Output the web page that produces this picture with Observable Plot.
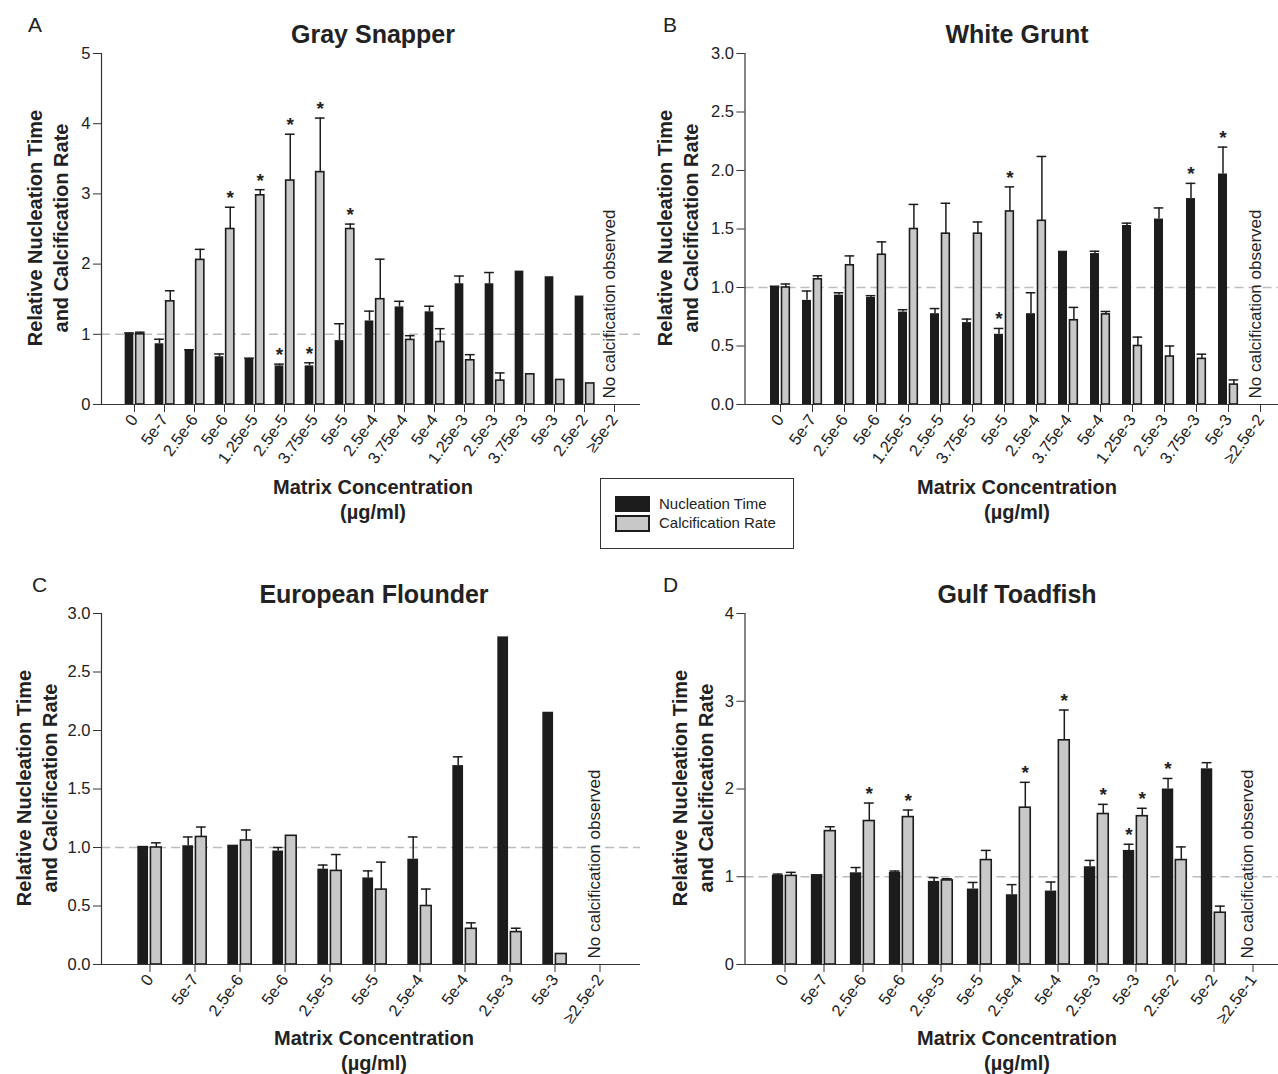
<!DOCTYPE html>
<html><head><meta charset="utf-8">
<script src="https://cdn.jsdelivr.net/npm/d3@7"></script>
<script src="https://cdn.jsdelivr.net/npm/@observablehq/plot@0.6"></script>
<style>
body{margin:0;background:#fff;}
#fig{position:relative;width:1278px;height:1074px;font-family:"Liberation Sans",Arial,sans-serif;color:#222;overflow:hidden;background:#fff}
.abs{position:absolute;white-space:nowrap}
.letter{font-size:21px;line-height:21px}
.title{font-size:25px;line-height:25px;font-weight:bold;transform:translateX(-50%)}
.xt{font-size:20px;line-height:20px;font-weight:bold;transform:translateX(-50%)}
.yt{font-size:20px;line-height:26px;font-weight:bold;text-align:center;transform:translate(-50%,-50%) rotate(-90deg)}
.panel{position:absolute}
.legend{position:absolute;left:600px;top:478px;width:194px;height:71px;border:1px solid #333;box-sizing:border-box;font-size:15px}
</style></head><body><div id="fig"></div>
<script>
// ---------- DATA ----------
// A: Gray Snapper
const snapperConc = ["0","5e-7","2.5e-6","5e-6","1.25e-5","2.5e-5","3.75e-5","5e-5","2.5e-4","3.75e-4","5e-4","1.25e-3","2.5e-3","3.75e-3","5e-3","2.5e-2","≥5e-2"];
const snapperNuc     = [1.01,0.865,0.775,0.68,0.65,0.55,0.55,0.91,1.19,1.39,1.32,1.72,1.72,1.90,1.82,1.545,null];
const snapperNucErr  = [1.02,0.93,0.78,0.72,0.66,0.575,0.594,1.15,1.33,1.47,1.40,1.83,1.88,null,null,null,null];
const snapperCalc    = [1.0,1.47,2.06,2.50,2.98,3.19,3.31,2.50,1.50,0.92,0.89,0.63,0.34,0.43,0.35,0.30,null];
const snapperCalcErr = [1.03,1.62,2.21,2.81,3.06,3.85,4.08,2.57,2.07,0.98,1.08,0.71,0.45,null,null,null,null];
const snapperNucStars  = ["2.5e-5","3.75e-5"];
const snapperCalcStars = ["5e-6","1.25e-5","2.5e-5","3.75e-5","5e-5"];

// B: White Grunt
const gruntConc = ["0","5e-7","2.5e-6","5e-6","1.25e-5","2.5e-5","3.75e-5","5e-5","2.5e-4","3.75e-4","5e-4","1.25e-3","2.5e-3","3.75e-3","5e-3","≥2.5e-2"];
const gruntNuc     = [1.01,0.89,0.935,0.915,0.79,0.776,0.70,0.60,0.776,1.31,1.29,1.53,1.585,1.76,1.97,null];
const gruntNucErr  = [1.01,0.97,0.955,0.93,0.81,0.82,0.73,0.65,0.955,null,1.31,1.55,1.68,1.89,2.20,null];
const gruntCalc    = [1.0,1.07,1.19,1.28,1.50,1.46,1.46,1.65,1.57,0.72,0.77,0.50,0.41,0.39,0.17,null];
const gruntCalcErr = [1.03,1.10,1.27,1.39,1.71,1.72,1.56,1.86,2.12,0.83,0.795,0.576,0.50,0.43,0.21,null];
const gruntNucStars  = ["5e-5","3.75e-3","5e-3"];
const gruntCalcStars = ["5e-5"];

// C: European Flounder
const flounderConc = ["0","5e-7","2.5e-6","5e-6","2.5e-5","5e-5","2.5e-4","5e-4","2.5e-3","5e-3","≥2.5e-2"];
const flounderNuc     = [1.01,1.015,1.02,0.97,0.815,0.74,0.90,1.70,2.80,2.156,null];
const flounderNucErr  = [null,1.09,null,1.0,0.85,0.80,1.09,1.775,null,null,null];
const flounderCalc    = [1.0,1.09,1.06,1.10,0.80,0.64,0.50,0.305,0.277,0.09,null];
const flounderCalcErr = [1.04,1.175,1.15,null,0.94,0.875,0.645,0.356,0.31,null,null];
const flounderNucStars  = [];
const flounderCalcStars = [];

// D: Gulf Toadfish
const toadfishConc = ["0","5e-7","2.5e-6","5e-6","2.5e-5","5e-5","2.5e-4","5e-4","2.5e-3","5e-3","2.5e-2","5e-2","≥2.5e-1"];
const toadfishNuc     = [1.015,1.025,1.045,1.05,0.947,0.86,0.795,0.837,1.114,1.30,2.0,2.23,null];
const toadfishNucErr  = [1.03,null,1.105,1.065,0.99,0.935,0.91,0.94,1.186,1.37,2.12,2.30,null];
const toadfishCalc    = [1.01,1.52,1.635,1.68,0.958,1.19,1.787,2.555,1.715,1.69,1.19,0.59,null];
const toadfishCalcErr = [1.05,1.57,1.84,1.76,0.977,1.30,2.076,2.90,1.825,1.78,1.34,0.665,null];
const toadfishNucStars  = ["5e-3","2.5e-2"];
const toadfishCalcStars = ["2.5e-6","5e-6","2.5e-4","5e-4","2.5e-3","5e-3"];

const yTicksA = [0,1,2,3,4,5];
const yTicksB = [0,0.5,1,1.5,2,2.5,3];
const yTicksD = [0,1,2,3,4];
const noCalcText = "No calcification observed";
const yTitle = ["Relative Nucleation Time","and Calcification Rate"];
const xTitle = ["Matrix Concentration","(µg/ml)"];
const legendLabels = ["Nucleation Time","Calcification Rate"];

// ---------- DRAW ----------
const fig = document.getElementById("fig");
const BLACK = "#1c1c1c", GRAY = "#c8c8c8";

function panel(o) {
  const rows = o.conc.map((c, i) => ({
    c, nuc: o.nuc[i], nucErr: o.nucErr[i], calc: o.calc[i], calcErr: o.calcErr[i],
    nucStar: o.nucStars.includes(c), calcStar: o.calcStars.includes(c)
  }));
  const bw = (o.xRange[1] - o.xRange[0]) / o.conc.length;
  const ins = ([a, b]) => ({insetLeft: bw / 2 + a, insetRight: bw / 2 - b});
  const bc = (o.black[0] + o.black[1]) / 2, gc = (o.gray[0] + o.gray[1]) / 2;
  const cap = (c) => ({insetLeft: bw / 2 + c - 5, insetRight: bw / 2 - c - 5});
  const last = o.conc[o.conc.length - 1];
  const svg = Plot.plot({
    width: o.width, height: 540,
    marginLeft: o.marginLeft, marginRight: 0, marginTop: 53, marginBottom: 136,
    style: {fontFamily: "Liberation Sans, Arial, sans-serif", color: "#222", background: "transparent", overflow: "visible"},
    x: {type: "band", domain: o.conc, range: o.xRange, padding: 0},
    y: {domain: [0, o.yMax]},
    marks: [
      Plot.ruleY([1], {stroke: "#bcbcbc", strokeDasharray: "9,5", strokeWidth: 1.4}),
      Plot.barY(rows.filter(d => d.nuc != null), {x: "c", y: "nuc", fill: BLACK, ...ins(o.black)}),
      Plot.barY(rows.filter(d => d.calc != null), {x: "c", y: "calc", fill: GRAY, stroke: BLACK, strokeWidth: 1.6, ...ins(o.gray)}),
      Plot.ruleX(rows.filter(d => d.nucErr != null), {x: "c", y1: "nuc", y2: "nucErr", dx: bc, stroke: BLACK, strokeWidth: 1.5}),
      Plot.tickY(rows.filter(d => d.nucErr != null), {x: "c", y: "nucErr", stroke: BLACK, strokeWidth: 1.5, ...cap(bc)}),
      Plot.ruleX(rows.filter(d => d.calcErr != null), {x: "c", y1: "calc", y2: "calcErr", dx: gc, stroke: BLACK, strokeWidth: 1.5}),
      Plot.tickY(rows.filter(d => d.calcErr != null), {x: "c", y: "calcErr", stroke: BLACK, strokeWidth: 1.5, ...cap(gc)}),
      Plot.text(rows.filter(d => d.nucStar), {x: "c", y: d => d.nucErr ?? d.nuc, dx: bc, dy: -3, text: () => "*", lineAnchor: "bottom", fontSize: 19, fontWeight: "bold", fill: "#222"}),
      Plot.text(rows.filter(d => d.calcStar), {x: "c", y: d => d.calcErr ?? d.calc, dx: gc, dy: -3, text: () => "*", lineAnchor: "bottom", fontSize: 19, fontWeight: "bold", fill: "#222"}),
      Plot.text([noCalcText], {x: () => last, frameAnchor: "bottom", rotate: -90, textAnchor: "start", dy: -6, text: d => d, fontSize: 17, fill: "#222"}),
      Plot.ruleY([0], {stroke: "#333", strokeWidth: 1.2}),
      Plot.frame({anchor: "left", stroke: "#333", strokeWidth: 1.2}),
      Plot.axisX({tickRotate: -54, tickSize: 8, tickPadding: 4, fontSize: 16.5, label: null, stroke: "#333"}),
      Plot.axisY({ticks: o.yTicks, tickFormat: o.yFmt, tickSize: 8, tickPadding: 3, fontSize: 16.5, label: null, stroke: "#333"})
    ]
  });
  svg.classList.add("panel");
  svg.style.left = o.left + "px";
  svg.style.top = o.top + "px";
  fig.appendChild(svg);

  const add = (cls, text, left, top) => {
    const d = document.createElement("div");
    d.className = "abs " + cls;
    d.innerHTML = text;
    d.style.left = (o.left + left) + "px"; d.style.top = top + "px";
    fig.appendChild(d);
  };
  add("letter", o.letter, o.letterX, o.top + 14);
  add("title", o.title, o.titleX, o.top + 22);
  add("xt", xTitle[0], o.titleX, o.top + o.xtTop);
  add("xt", xTitle[1], o.titleX, o.top + o.xtTop + 25);
  add("yt", yTitle[0] + "<br>" + yTitle[1], o.ytX, o.top + 228);
}

panel({letter: "A", title: "Gray Snapper", conc: snapperConc, nuc: snapperNuc, nucErr: snapperNucErr, calc: snapperCalc, calcErr: snapperCalcErr,
  nucStars: snapperNucStars, calcStars: snapperCalcStars, yMax: 5, yTicks: yTicksA, yFmt: d3.format("d"),
  left: 0, top: 0, width: 640, marginLeft: 101, xRange: [116.25, 631.35], black: [-9.5, -0.5], gray: [1.5, 10],
  letterX: 28, titleX: 373, xtTop: 477, ytX: 48});
panel({letter: "B", title: "White Grunt", conc: gruntConc, nuc: gruntNuc, nucErr: gruntNucErr, calc: gruntCalc, calcErr: gruntCalcErr,
  nucStars: gruntNucStars, calcStars: gruntCalcStars, yMax: 3, yTicks: yTicksB, yFmt: d3.format(".1f"),
  left: 640, top: 0, width: 638, marginLeft: 104.5, xRange: [120.5, 638.9], black: [-10.2, -0.8], gray: [1.3, 9.5],
  letterX: 23, titleX: 377, xtTop: 477, ytX: 38});
panel({letter: "C", title: "European Flounder", conc: flounderConc, nuc: flounderNuc, nucErr: flounderNucErr, calc: flounderCalc, calcErr: flounderCalcErr,
  nucStars: flounderNucStars, calcStars: flounderCalcStars, yMax: 3, yTicks: yTicksB, yFmt: d3.format(".1f"),
  left: 0, top: 560, width: 640, marginLeft: 101, xRange: [125.57, 623.4], black: [-12.3, -1.3], gray: [0.8, 11.8],
  letterX: 32, titleX: 374, xtTop: 468, ytX: 37});
panel({letter: "D", title: "Gulf Toadfish", conc: toadfishConc, nuc: toadfishNuc, nucErr: toadfishNucErr, calc: toadfishCalc, calcErr: toadfishCalcErr,
  nucStars: toadfishNucStars, calcStars: toadfishCalcStars, yMax: 4, yTicks: yTicksD, yFmt: d3.format("d"),
  left: 640, top: 560, width: 638, marginLeft: 104.5, xRange: [124.54, 633.1], black: [-12.7, -1.2], gray: [0.8, 11.8],
  letterX: 23, titleX: 377, xtTop: 468, ytX: 53});

// legend
const lg = document.createElement("div");
lg.className = "legend";
lg.innerHTML = `
 <div class="abs" style="left:14px;top:17px;width:35px;height:16px;background:${BLACK}"></div>
 <div class="abs" style="left:14px;top:36px;width:35px;height:17px;background:${GRAY};border:2px solid ${BLACK};box-sizing:border-box"></div>
 <div class="abs" style="left:58px;top:16px;line-height:18px">${legendLabels[0]}</div>
 <div class="abs" style="left:58px;top:35px;line-height:18px">${legendLabels[1]}</div>`;
fig.appendChild(lg);
</script></body></html>
